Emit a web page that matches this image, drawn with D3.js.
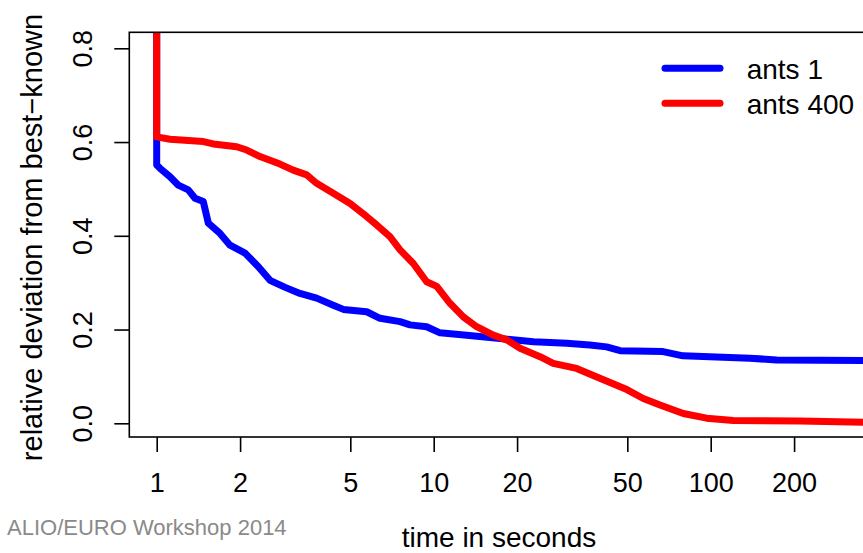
<!DOCTYPE html>
<html>
<head>
<meta charset="utf-8">
<script src="https://cdn.jsdelivr.net/npm/d3@7/dist/d3.min.js"></script>
<style>
  html, body { margin: 0; padding: 0; background: #fff; }
  svg { display: block; }
  text { font-family: "Liberation Sans", Arial, Helvetica, sans-serif; fill: #000; }
</style>
</head>
<body>
<svg id="chart" width="863" height="553"></svg>
<script>
// Run-time traces: seconds elapsed vs. relative deviation from best-known solution
const ants1Time  = [1, 1, 1.028, 1.117, 1.197, 1.30, 1.375, 1.473, 1.536, 1.693, 1.839, 2.084, 2.328, 2.565, 2.91, 3.29, 3.78, 4.34, 4.72, 5.73, 6.40, 7.56, 8.21, 9.43, 10.54, 13.16, 17.35, 22.9, 30.2, 36.6, 42.1, 47.1, 67.3, 79.4, 138.5, 173, 360];
const ants1Value = [0.9, 0.551, 0.544, 0.526, 0.508, 0.498, 0.480, 0.473, 0.427, 0.405, 0.380, 0.363, 0.334, 0.305, 0.290, 0.277, 0.267, 0.252, 0.243, 0.238, 0.224, 0.217, 0.210, 0.206, 0.193, 0.188, 0.181, 0.174, 0.171, 0.167, 0.163, 0.155, 0.153, 0.144, 0.139, 0.135, 0.134];

const ants400Time  = [1, 1, 1.117, 1.473, 1.601, 1.945, 2.113, 2.36, 2.786, 3.11, 3.48, 3.78, 4.34, 4.99, 5.73, 6.23, 6.95, 7.56, 8.44, 9.43, 10.26, 11.45, 12.79, 14.29, 16.41, 18.34, 20.5, 24.2, 27.0, 32.8, 39.8, 49.8, 57.1, 65.6, 79.6, 96.7, 120.6, 210, 360];
const ants400Value = [0.9, 0.611, 0.606, 0.601, 0.596, 0.590, 0.583, 0.569, 0.553, 0.540, 0.530, 0.512, 0.491, 0.469, 0.441, 0.423, 0.398, 0.370, 0.341, 0.302, 0.292, 0.256, 0.227, 0.206, 0.188, 0.178, 0.160, 0.142, 0.128, 0.117, 0.096, 0.072, 0.053, 0.039, 0.021, 0.011, 0.006, 0.005, 0.002];

const seriesNames  = ["ants 1", "ants 400"];
const seriesColors = ["#0000ff", "#ff0000"];

const xTicks = [1, 2, 5, 10, 20, 50, 100, 200];
const yTicks = [0, 0.2, 0.4, 0.6, 0.8];

const svg = d3.select("#chart");

// plot region (right side of the frame runs past the page edge)
const box = { left: 129.3, top: 32.3, right: 870, bottom: 437 };

const x = d3.scaleLog().domain([1, 100]).range([156.7, 710.7]);
const y = d3.scaleLinear().domain([0, 0.8]).range([423.3, 48.3]);

svg.append("defs").append("clipPath").attr("id", "plotClip")
  .append("rect")
  .attr("x", box.left).attr("y", box.top)
  .attr("width", box.right - box.left).attr("height", box.bottom - box.top);

const line = d3.line()
  .x(d => x(d[0]))
  .y(d => y(d[1]))
  .curve(d3.curveLinear);

const series = [
  d3.zip(ants1Time, ants1Value),
  d3.zip(ants400Time, ants400Value)
];

const lines = svg.append("g").attr("clip-path", "url(#plotClip)");
series.forEach((pts, i) => {
  lines.append("path")
    .datum(pts)
    .attr("d", line)
    .attr("fill", "none")
    .attr("stroke", seriesColors[i])
    .attr("stroke-width", 7)
    .attr("stroke-linejoin", "round")
    .attr("stroke-linecap", "round");
});

// frame
svg.append("rect")
  .attr("x", box.left).attr("y", box.top)
  .attr("width", box.right - box.left).attr("height", box.bottom - box.top)
  .attr("fill", "none").attr("stroke", "#000").attr("stroke-width", 1.6);

// x axis
const xAxis = d3.axisBottom(x)
  .tickValues(xTicks)
  .tickFormat(d3.format("d"))
  .tickSize(15)
  .tickPadding(25);
const gx = svg.append("g").attr("transform", `translate(0,${box.bottom})`).call(xAxis);
gx.select(".domain").remove();
gx.selectAll(".tick line").attr("stroke", "#000").attr("stroke-width", 1.6);
gx.selectAll(".tick text")
  .attr("y", null).attr("dy", null)
  .attr("transform", `translate(0,${492 - box.bottom})`)
  .style("font-size", "27px")
  .style("font-family", "'Liberation Sans', Arial, sans-serif")
  .attr("fill", "#000");

// y axis
const yAxis = d3.axisLeft(y)
  .tickValues(yTicks)
  .tickFormat(d3.format(".1f"))
  .tickSize(15);
const gy = svg.append("g").attr("transform", `translate(${box.left},0)`).call(yAxis);
gy.select(".domain").remove();
gy.selectAll(".tick line").attr("stroke", "#000").attr("stroke-width", 1.6);
gy.selectAll(".tick text")
  .attr("x", null).attr("dy", null)
  .attr("text-anchor", "middle")
  .attr("transform", `translate(${92 - box.left},0) rotate(-90)`)
  .style("font-size", "27px")
  .style("font-family", "'Liberation Sans', Arial, sans-serif")
  .attr("fill", "#000");

// axis titles
svg.append("text")
  .attr("x", 499).attr("y", 547)
  .attr("text-anchor", "middle")
  .style("font-size", "28px")
  .text("time in seconds");

svg.append("text")
  .attr("transform", "translate(42,237.5) rotate(-90)")
  .attr("text-anchor", "middle")
  .style("font-size", "29px")
  .text("relative deviation from best\u2212known");

// legend
const legend = svg.append("g");
seriesNames.forEach((name, i) => {
  const ly = 68.3 + i * 35;
  legend.append("line")
    .attr("x1", 665).attr("x2", 720)
    .attr("y1", ly).attr("y2", ly)
    .attr("stroke", seriesColors[i]).attr("stroke-width", 7)
    .attr("stroke-linecap", "round");
  legend.append("text")
    .attr("x", 746.7).attr("y", ly + 11)
    .style("font-size", "28px")
    .text(name);
});

// footer
svg.append("text")
  .attr("x", 7).attr("y", 535)
  .style("font-size", "22px")
  .style("fill", "#8a8a8a")
  .text("ALIO/EURO Workshop 2014");
</script>
</body>
</html>
